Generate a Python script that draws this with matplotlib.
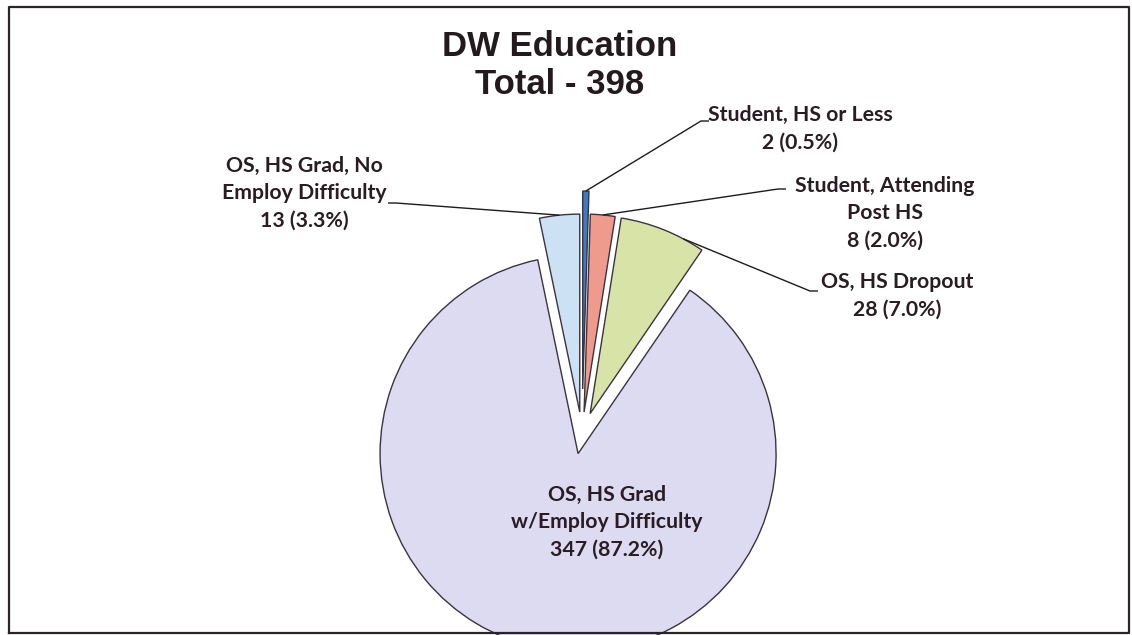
import matplotlib
matplotlib.use('Agg')
import matplotlib.pyplot as plt
import numpy as np

# ---- data ----
categories = ["Student, HS or Less", "Student, Attending\nPost HS", "OS, HS Dropout",
              "OS, HS Grad\nw/Employ Difficulty", "OS, HS Grad, No\nEmploy Difficulty"]
counts = [2, 8, 28, 347, 13]
colors = ["#3d7cc2", "#ee9b8d", "#d8e3a7", "#dcdbf1", "#cde1f4"]
title_lines = ["DW Education", "Total - 398"]

W, H = 1132, 635
fig = plt.figure(figsize=(W / 100, H / 100), dpi=100)
ax = fig.add_axes([0, 0, 1, 1])


def Y(y):
    return H - y


total = sum(counts)
wedges, _ = ax.pie(counts, colors=colors, startangle=90, counterclock=False,
                   center=(582, Y(434)), radius=198,
                   explode=[45, 22, 22, 20, 22],
                   wedgeprops=dict(edgecolor='#3b3340', linewidth=1.0),
                   frame=True)
ax.set_xlim(0, W)
ax.set_ylim(0, H)
ax.axis('off')

txt_color = '#2a1c22'
lab_font = dict(family=['Lato', 'DejaVu Sans'], fontweight='bold', fontsize=15.3,
                color=txt_color, linespacing=1.45)

labels = [f"{c}\n{n} ({n / total * 100:.1f}%)" for c, n in zip(categories, counts)]

# layout: (text center x, text center y (image px), arc fraction, leader end x, y, tick dir)
layout = {
    0: (800, 129, 0.5, 701, 121, 1),
    1: (885, 213, 0.5, 778, 189, 1),
    2: (897, 296, 0.25, 810, 291, 1),
    4: (304, 193, 0.5, 396, 203, -1),
}

for i, w in enumerate(wedges):
    if i == 3:
        ax.text(607, Y(522), labels[i], ha='center', va='center', **lab_font)
        continue
    tx, ty, frac, lx, ly, d = layout[i]
    ax.text(tx, Y(ty), labels[i], ha='center', va='center', **lab_font)
    # anchor on wedge arc
    t1, t2 = w.theta1, w.theta2
    th = np.deg2rad(t1 + (t2 - t1) * frac)
    cx, cy = w.center
    ax_, ay_ = cx + w.r * np.cos(th), cy + w.r * np.sin(th)
    ax.plot([ax_, lx, lx + 8 * d], [ay_, Y(ly), Y(ly)], color='#1f1a1c', lw=1.0,
            solid_capstyle='butt')

ax.text(560, Y(47), title_lines[0], ha='center', va='center',
        family=['Liberation Sans', 'DejaVu Sans'], fontweight='bold', fontsize=25,
        color='#241a1e')
ax.text(560, Y(84), title_lines[1], ha='center', va='center',
        family=['Liberation Sans', 'DejaVu Sans'], fontweight='bold', fontsize=25,
        color='#241a1e')

# outer frame
ax.plot([9, 9, 1129, 1129, 9], [Y(633), Y(7), Y(7), Y(633), Y(633)],
        color='#2b2326', lw=1.6, clip_on=False)

fig.savefig('out.png', dpi=100)
